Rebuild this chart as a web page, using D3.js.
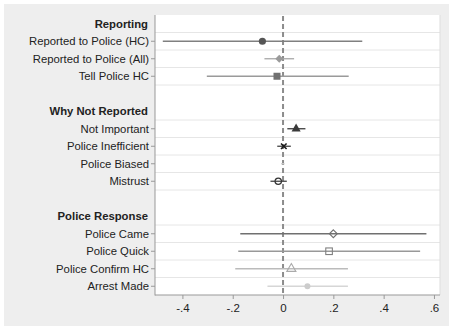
<!DOCTYPE html>
<html><head><meta charset="utf-8">
<script src="https://cdn.jsdelivr.net/npm/d3@7"></script>
<style>body{margin:0;background:#fff}svg{display:block}</style>
</head><body>
<script>
// rows: header rows have type "h", blank rows "b", variable rows "v"
const rowLabels = ["Reporting","Reported to Police (HC)","Reported to Police (All)","Tell Police HC","",
  "Why Not Reported","Not Important","Police Inefficient","Police Biased","Mistrust","",
  "Police Response","Police Came","Police Quick","Police Confirm HC","Arrest Made"];
const rowTypes = ["h","v","v","v","b","h","v","v","v","v","b","h","v","v","v","v"];
const estimates = [null,-0.082,-0.015,-0.024,null,null,0.052,0.003,-0.001,-0.019,null,null,0.200,0.183,0.033,0.097];
const ciLow     = [null,-0.478,-0.074,-0.303,null,null,0.017,-0.023,-0.008,-0.050,null,null,-0.170,-0.178,-0.190,-0.062];
const ciHigh    = [null, 0.315, 0.044, 0.261,null,null,0.089, 0.031, 0.006, 0.015,null,null, 0.570, 0.545, 0.258, 0.258];
const markers   = [null,"circle","diamond","square",null,null,"triangle","cross","plus","circleO",null,null,"diamondO","squareO","triangleO","dot"];
const xTicks = [-0.4,-0.2,0,0.2,0.4,0.6];
const xTickLabels = ["-.4","-.2","0",".2",".4",".6"];

const W=449,H=326;
const svg=d3.select("body").append("svg").attr("width",W).attr("height",H);
svg.append("rect").attr("x",4).attr("y",4).attr("width",W-4).attr("height",H-4).attr("fill","#eeeeee");

const L=155,R=440,T=15,B=295;
const x=d3.scaleLinear().domain([-0.509,0.624]).range([L,R]);
const y=d3.scaleBand().domain(d3.range(rowLabels.length)).range([T,B]);

svg.append("rect").attr("x",L).attr("y",T).attr("width",R-L).attr("height",B-T).attr("fill","#fff");

// grid lines at edges of variable rows
const gl=new Set();
rowTypes.forEach((t,i)=>{ if(t==="v"){ gl.add(y(i)); gl.add(y(i)+y.bandwidth()); }});
[...gl].forEach(v=>{ if(v<B-1) svg.append("line").attr("x1",L).attr("x2",R).attr("y1",v).attr("y2",v).attr("stroke","#e6e6e6").attr("stroke-width",1);});

// plot frame right
svg.append("line").attr("x1",R).attr("x2",R).attr("y1",T).attr("y2",B).attr("stroke","#dddddd");

// zero line
svg.append("line").attr("x1",x(0)).attr("x2",x(0)).attr("y1",T+1).attr("y2",B).attr("stroke","#8c8c8c").attr("stroke-width",2).attr("stroke-dasharray","5,3");

const styles={
  circle:{c:"#555",lc:"#808080"},diamond:{c:"#9a9a9a",lc:"#a8a8a8"},square:{c:"#707070",lc:"#9a9a9a"},
  triangle:{c:"#3a3a3a",lc:"#3a3a3a"},cross:{c:"#1a1a1a",lc:"#444"},plus:{c:"#b5b5b5",lc:"#cfcfcf"},circleO:{c:"#333",lc:"#444"},
  diamondO:{c:"#707070",lc:"#707070"},squareO:{c:"#808080",lc:"#999"},triangleO:{c:"#aaa",lc:"#bbb"},dot:{c:"#cccccc",lc:"#d6d6d6"}
};
const cy=i=>y(i)+y.bandwidth()/2;
rowTypes.forEach((t,i)=>{
  if(t!=="v")return;
  const m=markers[i], s=styles[m];
  svg.append("line").attr("x1",x(ciLow[i])).attr("x2",x(ciHigh[i])).attr("y1",cy(i)).attr("y2",cy(i)).attr("stroke",s.lc).attr("stroke-width",1.3);
  const g=svg.append("g").attr("transform",`translate(${x(estimates[i])},${cy(i)})`);
  const sym=(type,size)=>d3.symbol().type(type).size(size)();
  if(m==="circle") g.append("circle").attr("r",3.6).attr("fill",s.c);
  else if(m==="diamond") g.append("path").attr("d",sym(d3.symbolDiamond2,40)).attr("fill",s.c);
  else if(m==="square") g.append("rect").attr("x",-3.5).attr("y",-3.5).attr("width",7).attr("height",7).attr("fill",s.c);
  else if(m==="triangle") g.append("path").attr("d",sym(d3.symbolTriangle,36)).attr("fill",s.c);
  else if(m==="cross") g.append("path").attr("d",sym(d3.symbolX,22)).attr("fill","none").attr("stroke",s.c).attr("stroke-width",1.6);
  else if(m==="plus") g.append("path").attr("d",sym(d3.symbolPlus,36)).attr("fill",s.c);
  else if(m==="circleO") g.append("circle").attr("r",3.2).attr("fill","none").attr("stroke",s.c).attr("stroke-width",1.2);
  else if(m==="diamondO") g.append("path").attr("d",sym(d3.symbolDiamond2,40)).attr("fill","none").attr("stroke",s.c).attr("stroke-width",1.1);
  else if(m==="squareO") g.append("rect").attr("x",-3.3).attr("y",-3.3).attr("width",6.6).attr("height",6.6).attr("fill","none").attr("stroke",s.c).attr("stroke-width",1.1);
  else if(m==="triangleO") g.append("path").attr("d",sym(d3.symbolTriangle,36)).attr("fill","none").attr("stroke",s.c).attr("stroke-width",1.1);
  else if(m==="dot") g.append("circle").attr("r",3).attr("fill",s.c);
});

// axes lines
svg.append("line").attr("x1",L).attr("x2",L).attr("y1",T).attr("y2",B+0.5).attr("stroke","#999").attr("stroke-width",1);
svg.append("line").attr("x1",L).attr("x2",R).attr("y1",B).attr("y2",B).attr("stroke","#999").attr("stroke-width",1);

// x axis
const xa=svg.append("g").attr("transform",`translate(0,${B})`)
  .call(d3.axisBottom(x).tickValues(xTicks).tickFormat((d,i)=>xTickLabels[i]).tickSize(4).tickPadding(5));
xa.select(".domain").remove();
xa.selectAll("line").attr("stroke","#999");
xa.selectAll("text").attr("font-family","Liberation Sans, Arial, sans-serif").attr("font-size",11.5).attr("fill","#222");

// y labels
rowTypes.forEach((t,i)=>{
  if(t==="b")return;
  svg.append("text").attr("x",t==="v"?149:148).attr("y",cy(i)).attr("dy","0.35em").attr("text-anchor","end")
    .attr("font-family","Liberation Sans, Arial, sans-serif").attr("font-size",11.3).attr("font-weight",t==="h"?"bold":"normal")
    .attr("fill","#222").text(rowLabels[i]);
  if(t==="v") svg.append("line").attr("x1",151).attr("x2",L).attr("y1",cy(i)).attr("y2",cy(i)).attr("stroke","#999");
});
</script>
</body></html>
